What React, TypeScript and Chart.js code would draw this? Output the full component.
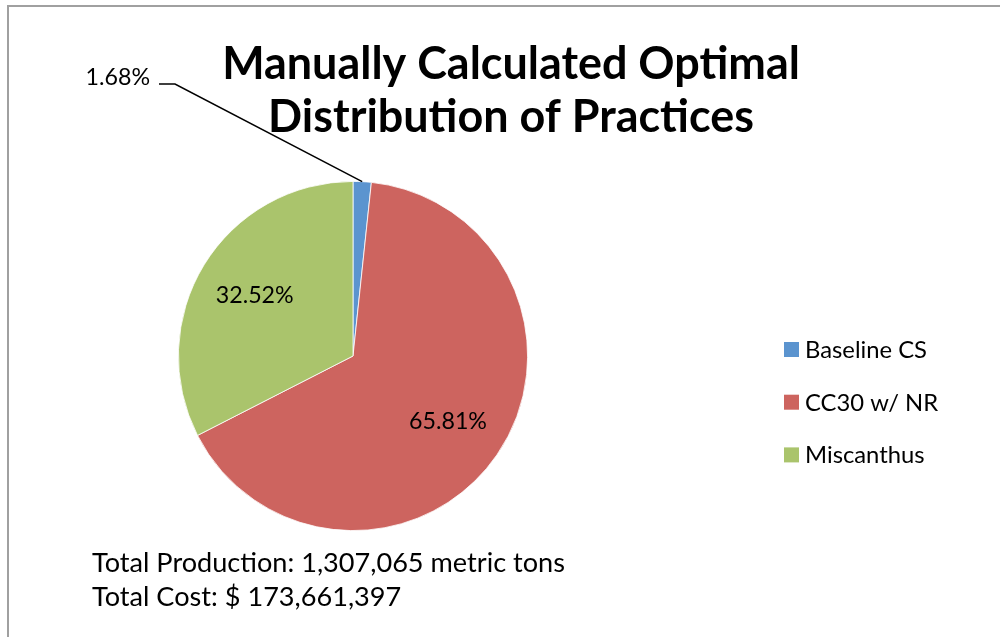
import React, { useEffect, useRef } from "react";
import { Chart, registerables } from "chart.js";

Chart.register(...registerables);

const categories = ["Baseline CS", "CC30 w/ NR", "Miscanthus"];
const shares = [1.68, 65.81, 32.52];
const sliceColors = ["#5B94CF", "#CD645F", "#AAC46C"];
const titleLines = ["Manually Calculated Optimal", "Distribution of Practices"];
const footerLines = [
  "Total Production: 1,307,065 metric tons",
  "Total Cost: $ 173,661,397",
];

const FAMILY = "Lato, 'Open Sans', sans-serif";

function fitSize(ctx: CanvasRenderingContext2D, text: string, weight: string, target: number) {
  ctx.font = `${weight} 100px ${FAMILY}`;
  const w = ctx.measureText(text).width;
  return (100 * target) / w;
}

const decorPlugin = {
  id: "decor",
  afterDraw(chart: any) {
    const ctx: CanvasRenderingContext2D = chart.ctx;
    ctx.save();
    // frame
    ctx.strokeStyle = "#A0A0A0";
    ctx.lineWidth = 2;
    ctx.beginPath();
    ctx.moveTo(8, 700);
    ctx.lineTo(8, 6);
    ctx.lineTo(1100, 6);
    ctx.stroke();

    // title
    const tSize = fitSize(ctx, titleLines[0], "bold", 578);
    ctx.font = `bold ${tSize}px ${FAMILY}`;
    ctx.fillStyle = "#000";
    ctx.textAlign = "center";
    ctx.textBaseline = "alphabetic";
    ctx.fillText(titleLines[0], 511, 79);
    ctx.fillText(titleLines[1], 511, 132);

    // data labels
    const meta = chart.getDatasetMeta(0);
    const lSize = fitSize(ctx, "32.52%", "normal", 78);
    ctx.font = `normal ${lSize}px ${FAMILY}`;
    ctx.textBaseline = "middle";
    meta.data.forEach((arc: any, i: number) => {
      const p = arc.getProps(["x", "y", "startAngle", "endAngle", "outerRadius"], true);
      const mid = (p.startAngle + p.endAngle) / 2;
      const label = shares[i].toFixed(2) + "%";
      if (shares[i] < 5) {
        const ex = p.x + Math.cos(mid) * p.outerRadius;
        const ey = p.y + Math.sin(mid) * p.outerRadius;
        ctx.strokeStyle = "#000";
        ctx.lineWidth = 1.5;
        ctx.beginPath();
        ctx.moveTo(ex, ey);
        ctx.lineTo(175, 84);
        ctx.lineTo(159, 84);
        ctx.stroke();
        ctx.textAlign = "right";
        ctx.fillText(label, 150, 78);
      } else {
        const r = p.outerRadius * 0.66;
        ctx.textAlign = "center";
        ctx.fillText(label, p.x + Math.cos(mid) * r, p.y + Math.sin(mid) * r);
      }
    });

    // legend
    const gSize = fitSize(ctx, categories[0], "normal", 122);
    ctx.font = `normal ${gSize}px ${FAMILY}`;
    ctx.textAlign = "left";
    ctx.textBaseline = "alphabetic";
    categories.forEach((c, i) => {
      const y = 358 + i * 52.7;
      ctx.fillStyle = sliceColors[i];
      ctx.fillRect(784, y - 16, 15, 15);
      ctx.fillStyle = "#000";
      ctx.fillText(c, 805, y);
    });

    // footer
    const fSize = fitSize(ctx, footerLines[0], "normal", 473);
    ctx.font = `normal ${fSize}px ${FAMILY}`;
    ctx.fillText(footerLines[0], 92, 572);
    ctx.fillText(footerLines[1], 92, 606);
    ctx.restore();
  },
};

export default function App() {
  const ref = useRef<HTMLCanvasElement | null>(null);
  useEffect(() => {
    if (!ref.current) return;
    const chart = new Chart(ref.current, {
      type: "pie",
      data: {
        labels: categories,
        datasets: [
          {
            data: shares,
            backgroundColor: sliceColors,
            borderColor: "#FFFFFF",
            borderWidth: 0.8,
          },
        ],
      },
      options: {
        responsive: false,
        animation: false,
        layout: { padding: { left: 178, top: 181, right: 472, bottom: 106 } },
        plugins: {
          legend: { display: false },
          title: { display: false },
          tooltip: { enabled: false },
        },
      },
      plugins: [decorPlugin],
    });
    return () => chart.destroy();
  }, []);
  return (
    <div style={{ position: "absolute", left: 0, top: 0, width: 1000, height: 637, background: "#fff" }}>
      <canvas ref={ref} width={1000} height={637} style={{ display: "block" }} />
    </div>
  );
}
